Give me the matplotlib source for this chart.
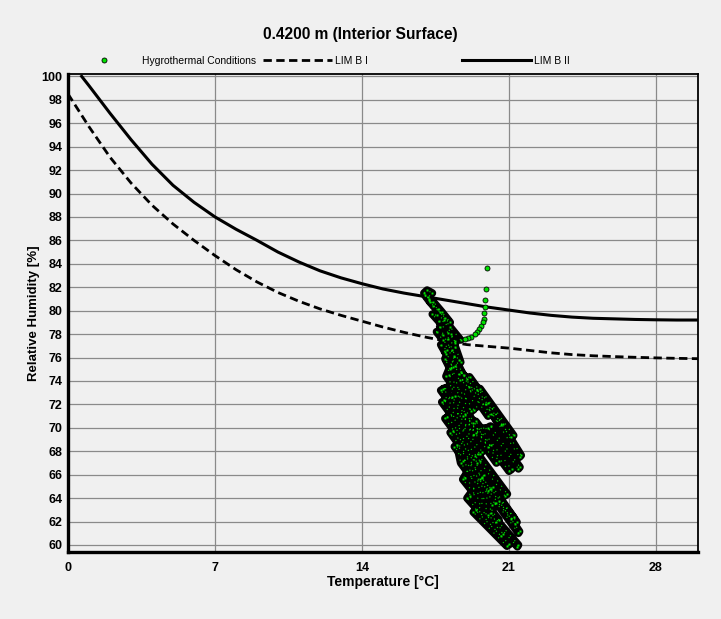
import numpy as np
import matplotlib
matplotlib.use('Agg')
import matplotlib.pyplot as plt

plt.rcParams['font.family'] = ['Liberation Sans', 'DejaVu Sans']

#%% data
# LIM B I (dashed) / LIM B II (solid) isopleths
limb1_T = [0.0, 1.0, 2.0, 3.0, 4.0, 5.0, 6.0, 7.0, 8.0, 9.0, 10.0, 11.0, 12.0, 13.0, 14.0, 15.0,
           16.0, 17.0, 18.0, 19.0, 20.0, 21.0, 22.0, 23.0, 24.0, 25.0, 26.0, 27.0, 28.0, 29.0, 30.0]
limb1_RH = [98.5, 95.7, 93.1, 90.9, 89.0, 87.4, 86.0, 84.7, 83.5, 82.45, 81.55, 80.8, 80.15, 79.6, 79.1, 78.6,
            78.15, 77.75, 77.4, 77.1, 76.95, 76.8, 76.6, 76.4, 76.25, 76.15, 76.08, 76.02, 75.97, 75.93, 75.9]
limb2_T = [0.65, 1.0, 2.0, 3.0, 4.0, 5.0, 6.0, 7.0, 8.0, 9.0, 10.0, 11.0, 12.0, 13.0, 14.0, 15.0,
           16.0, 17.0, 18.0, 19.0, 20.0, 21.0, 22.0, 23.0, 24.0, 25.0, 26.0, 27.0, 28.0, 29.0, 30.0]
limb2_RH = [100.0, 99.2, 96.85, 94.6, 92.5, 90.7, 89.25, 88.0, 86.95, 86.0, 85.0, 84.15, 83.4, 82.8, 82.3, 81.85,
            81.5, 81.2, 80.9, 80.6, 80.3, 80.05, 79.8, 79.6, 79.45, 79.35, 79.3, 79.25, 79.22, 79.2, 79.2]

# start-up points (separate dots)
start_T = [19.94, 19.90, 19.86, 19.84, 19.82, 19.79, 19.74, 19.68, 19.58, 19.47, 19.36, 19.20, 19.04, 18.90]
start_RH = [83.65, 81.85, 80.90, 80.30, 79.76, 79.33, 79.00, 78.68, 78.40, 78.17, 77.97, 77.77, 77.63, 77.55]

# hygrothermal trajectory (dense part)
hyg_T = [18.70, 18.20, 17.70, 17.20, 16.95, 17.10, 17.35, 17.15, 17.00,
         17.25, 17.60, 17.95, 17.40, 17.20, 17.40, 17.80, 18.20,
         17.55, 17.35, 17.65, 18.10, 18.45, 17.85, 17.55, 17.85, 18.30, 18.60,
         18.05, 17.75, 18.00, 18.45, 18.85, 18.35, 17.95, 18.20, 18.65, 19.10,
         17.70, 17.90, 18.25, 18.45, 17.95, 18.10, 18.45, 18.70, 18.25, 18.40,
         18.00, 19.20, 19.32, 18.12,
         18.60, 20.00, 20.12, 18.72,
         19.00, 20.60, 20.72, 19.12,
         17.75, 19.30, 19.42, 17.87,
         19.50, 21.10, 21.22, 19.62,
         17.80, 19.60, 19.72, 17.92,
         18.30, 20.00, 20.12, 18.42,
         19.90, 21.50, 21.58, 20.02,
         17.95, 19.50, 19.62, 18.07,
         18.80, 20.40, 20.52, 18.92,
         19.30, 21.00, 21.12, 19.42,
         18.20, 19.70, 19.82, 18.32,
         20.00, 21.45, 21.52, 20.12,
         18.40, 20.00, 20.12, 18.52,
         18.70, 20.20, 20.32, 18.82,
         19.40, 20.80, 20.92, 19.52,
         18.80, 20.40, 20.52, 18.92,
         19.60, 21.10, 21.22, 19.72,
         19.00, 20.60, 20.72, 19.12,
         20.10, 21.30, 21.38, 20.22,
         19.30, 20.90, 21.02, 19.42,
         20.00, 21.40, 21.45, 20.12,
         20.40, 21.45, 21.50, 20.52]
hyg_RH = [77.50, 78.60, 79.90, 81.00, 81.50, 81.75, 81.50, 81.15, 81.30,
          80.70, 80.10, 79.40, 80.40, 80.90, 80.75, 79.90, 79.00,
          79.60, 79.70, 79.10, 78.10, 77.40, 77.90, 78.20, 77.50, 76.60, 75.80,
          76.60, 77.10, 76.30, 75.30, 74.50, 75.20, 75.90, 75.00, 74.10, 73.50,
          78.60, 79.20, 78.00, 77.20, 76.50, 77.60, 76.90, 75.60, 75.10, 76.10,
          74.40, 71.40, 71.55, 74.55,
          74.60, 71.00, 71.15, 74.75,
          74.20, 70.20, 70.35, 74.35,
          73.20, 69.40, 69.55, 73.35,
          73.20, 69.20, 69.35, 73.35,
          72.20, 67.80, 67.95, 72.35,
          72.60, 68.40, 68.55, 72.75,
          72.00, 67.50, 67.65, 72.15,
          70.80, 67.00, 67.15, 70.95,
          71.00, 67.00, 67.15, 71.15,
          70.40, 66.30, 66.45, 70.55,
          69.60, 65.80, 65.95, 69.75,
          70.00, 66.50, 66.65, 70.15,
          68.40, 64.60, 64.75, 68.55,
          67.00, 63.40, 63.55, 67.15,
          67.60, 64.20, 64.35, 67.75,
          65.60, 62.00, 62.15, 65.75,
          65.60, 62.20, 62.35, 65.75,
          64.00, 60.80, 60.95, 64.15,
          64.80, 61.80, 61.95, 64.95,
          62.80, 59.90, 60.05, 62.95,
          62.60, 59.85, 60.00, 62.75,
          63.60, 61.00, 61.15, 63.75]

x_ticks = [0, 7, 14, 21, 28]
y_ticks = list(range(60, 101, 2))

#%% plot
bg = '#f0f0f0'
green = '#00e000'
fig = plt.figure(figsize=(7.21, 6.19), dpi=100, facecolor=bg)
ax = fig.add_axes([68/721, 1-552/619, (698-68)/721, (552-74)/619], facecolor=bg)

ax.plot(hyg_T, hyg_RH, color='black', lw=5.6, solid_joinstyle='round', solid_capstyle='round', zorder=3)
ax.plot(hyg_T, hyg_RH, color=green, lw=0.8, linestyle=(0, (1, 5)), zorder=4)
ax.plot(hyg_T, hyg_RH, 's', ms=1.4, mfc=green, mec='none', zorder=5)
h0, = ax.plot(start_T, start_RH, 'o', ms=3.6, mfc=green, mec='black', mew=0.6, zorder=5,
              label='Hygrothermal Conditions')
h1, = ax.plot(limb1_T, limb1_RH, color='black', lw=2.0, dashes=(3, 1.6), zorder=2, label='LIM B I')
h2, = ax.plot(limb2_T, limb2_RH, color='black', lw=2.2, zorder=2, label='LIM B II')

ax.set_xlim(0, 30)
ax.set_ylim(59.4, 100.2)
ax.set_xticks(x_ticks)
ax.set_yticks(y_ticks)
ax.grid(True, color='#8a8a8a', lw=0.9)
ax.set_axisbelow(True)
ax.tick_params(axis='both', length=0, labelsize=9)
ax.tick_params(axis='y', pad=4)
ax.tick_params(axis='x', pad=7)
for lab in ax.get_xticklabels() + ax.get_yticklabels():
    lab.set_fontweight('bold')
for s in ['left', 'bottom']:
    ax.spines[s].set_linewidth(2.4)
for s in ['top', 'right']:
    ax.spines[s].set_linewidth(1.3)

ax.set_xlabel('Temperature [°C]', fontsize=10, fontweight='bold', labelpad=1)
ax.set_ylabel('Relative Humidity [%]', fontsize=9.5, fontweight='bold', labelpad=1)
fig.text(360/721, 1-35/619, '0.4200 m (Interior Surface)', ha='center', va='center',
         fontsize=11.2, fontweight='bold')

leg1 = ax.legend(handles=[h0, h1], loc='center left', bbox_to_anchor=(70/721, 1-61/619),
                 bbox_transform=fig.transFigure, ncol=2, frameon=False, fontsize=7.5,
                 handlelength=6.6, handletextpad=0.3, columnspacing=0.7, borderpad=0,
                 borderaxespad=0)
ax.add_artist(leg1)
ax.legend(handles=[h2], loc='center left', bbox_to_anchor=(462/721, 1-61/619),
          bbox_transform=fig.transFigure, frameon=False, fontsize=7.5,
          handlelength=6.6, handletextpad=0.3, borderpad=0, borderaxespad=0)

plt.savefig('out.png', dpi=100, facecolor=bg)
